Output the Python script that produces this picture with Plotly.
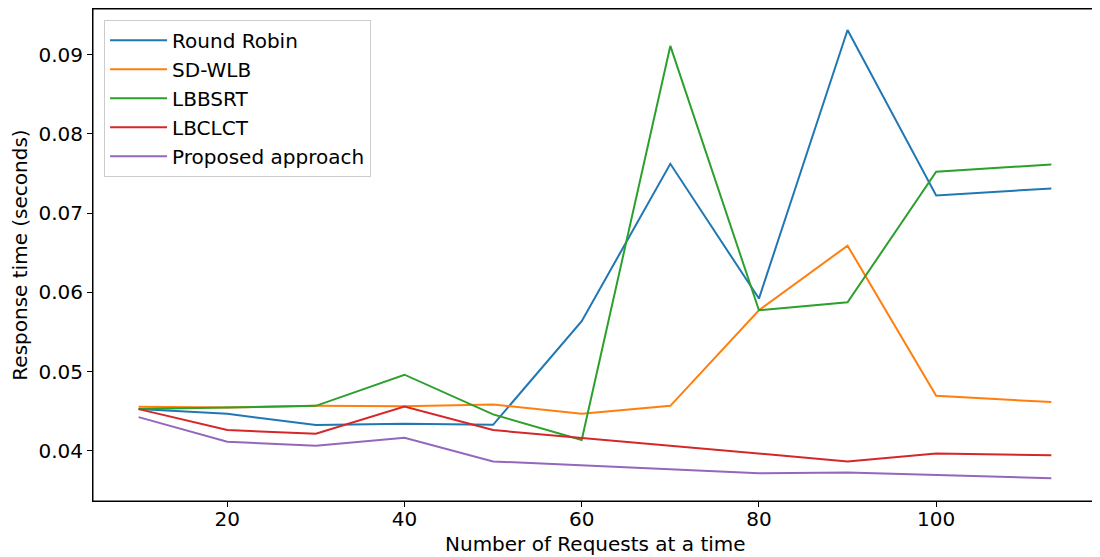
import plotly.graph_objects as go

requests = [10, 20, 30, 40, 50, 60, 70, 80, 90, 100, 113]

round_robin = [0.04526, 0.04466, 0.04324, 0.0434, 0.04328, 0.05635, 0.07622, 0.05921, 0.09311, 0.07223, 0.07311]
sd_wlb = [0.04555, 0.04547, 0.04567, 0.04563, 0.04585, 0.04466, 0.04567, 0.05773, 0.06589, 0.04693, 0.04614]
lbbsrt = [0.04526, 0.04547, 0.04567, 0.04960, 0.04459, 0.04135, 0.0911, 0.05773, 0.05874, 0.07522, 0.07614]
lbclct = [0.04526, 0.04261, 0.04214, 0.04559, 0.04261, 0.04164, 0.04066, 0.03967, 0.03866, 0.03967, 0.03942]
proposed = [0.04425, 0.04114, 0.04063, 0.04164, 0.03866, 0.03816, 0.03765, 0.03715, 0.03727, 0.03694, 0.03652]

series = [
    ("Round Robin", round_robin, "#1f77b4"),
    ("SD-WLB", sd_wlb, "#ff7f0e"),
    ("LBBSRT", lbbsrt, "#2ca02c"),
    ("LBCLCT", lbclct, "#d62728"),
    ("Proposed approach", proposed, "#9467bd"),
]

x_ticks = [20, 40, 60, 80, 100]
y_ticks = [0.04, 0.05, 0.06, 0.07, 0.08, 0.09]

fig = go.Figure()
for name, vals, color in series:
    fig.add_trace(go.Scatter(x=requests, y=vals, mode="lines", name=name,
                             line=dict(color=color, width=2)))

font = "DejaVu Sans, sans-serif"
# the page body has an 8px margin, so the figure is sized/offset to compensate
fig.update_layout(
    width=1092, height=549,
    margin=dict(l=85, r=3, t=1, b=56),
    paper_bgcolor="white", plot_bgcolor="white",
    font=dict(family=font, size=20, color="black"),
    legend=dict(x=0.011, y=0.978, xanchor="left", yanchor="top",
                bgcolor="rgba(255,255,255,0.8)", bordercolor="#cccccc", borderwidth=1,
                font=dict(size=20), tracegroupgap=0, itemwidth=57),
    showlegend=True,
    shapes=[dict(type="rect", xref="paper", yref="paper", x0=0, x1=1, y0=0, y1=1,
                 line=dict(color="black", width=1), layer="above")],
    annotations=[dict(text="Number of Requests at a time", xref="paper", yref="paper",
                      x=0.5, y=0, xanchor="center", yanchor="middle", yshift=-43,
                      showarrow=False, font=dict(size=20))],
)
fig.update_xaxes(
    range=[4.85, 118.15], tickvals=x_ticks, ticktext=[str(t) for t in x_ticks],
    showgrid=False, zeroline=False, showline=True, linecolor="black", linewidth=1, mirror=True,
    ticks="outside", ticklen=5, tickcolor="black", automargin=False,
    tickfont=dict(size=20), ticklabelstandoff=-5,
)
fig.update_yaxes(
    range=[0.03366, 0.09576], tickvals=y_ticks, ticktext=[f"{t:.2f}" for t in y_ticks],
    showgrid=False, zeroline=False, showline=True, linecolor="black", linewidth=1, mirror=True,
    ticks="outside", ticklen=5, tickcolor="black", automargin=False,
    title=dict(text="Response time (seconds)", font=dict(size=20), standoff=6),
    tickfont=dict(size=20),
)

fig.write_html("out.html")
